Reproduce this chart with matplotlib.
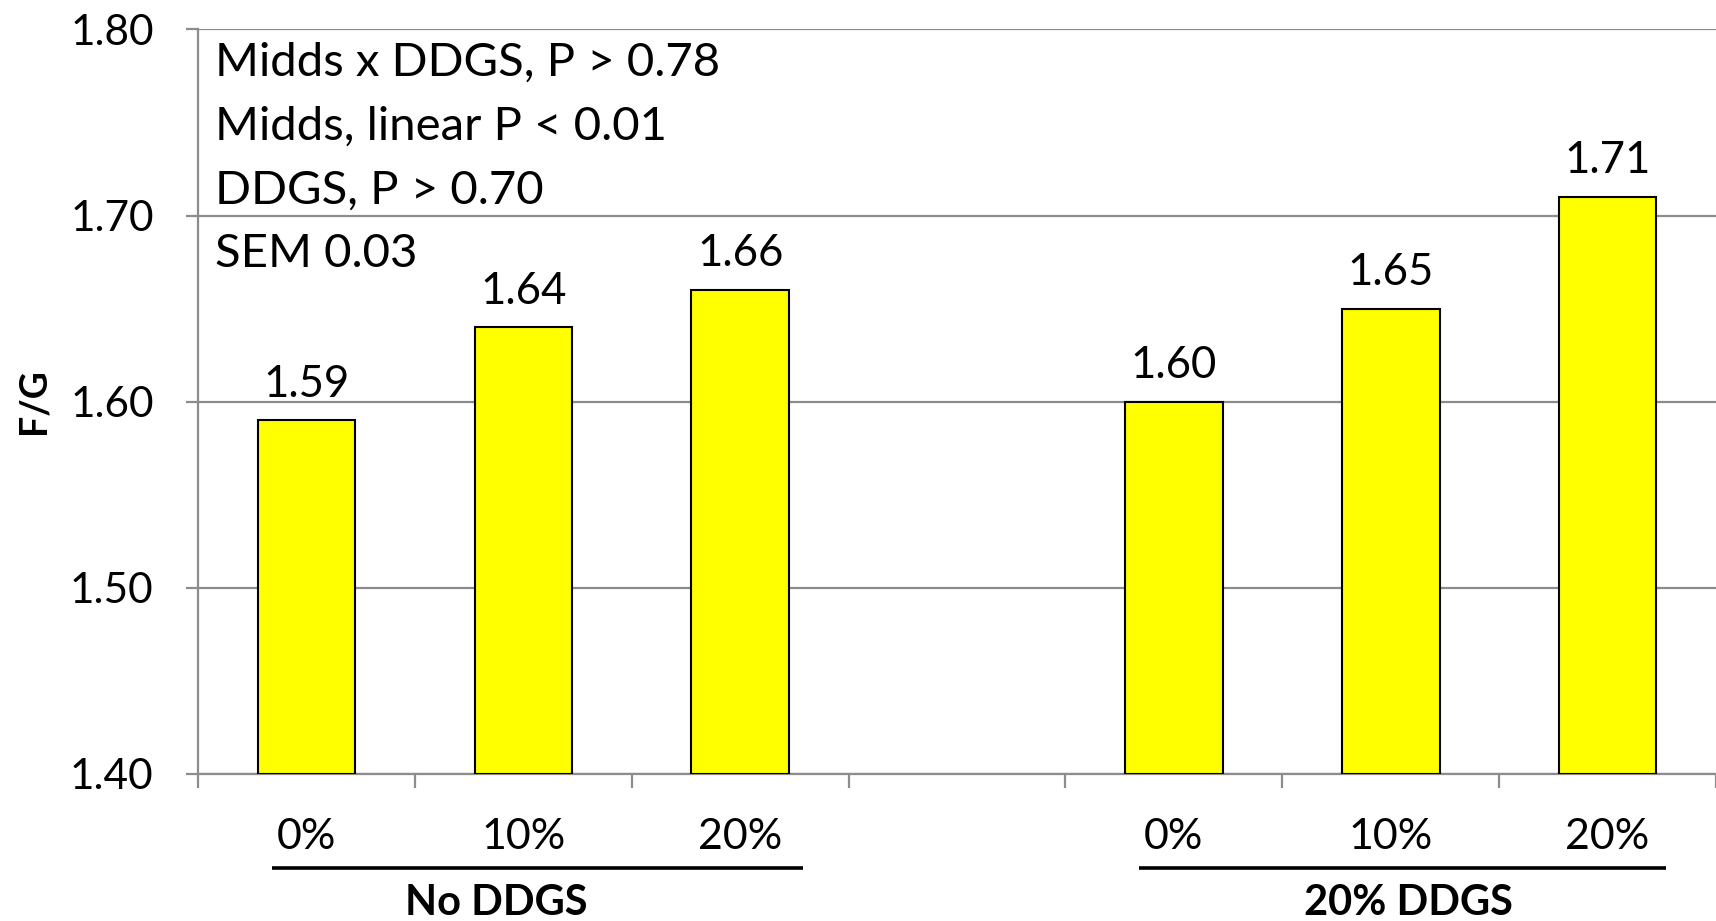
import matplotlib
matplotlib.use("Agg")
import matplotlib.pyplot as plt
from matplotlib.transforms import blended_transform_factory

plt.rcParams['font.family'] = ['Lato', 'DejaVu Sans']

# Feed efficiency (F/G) by midds level within each DDGS group
categories = ["0%", "10%", "20%", "", "0%", "10%", "20%"]
fg_values = [1.59, 1.64, 1.66, None, 1.60, 1.65, 1.71]
group_names = ["No DDGS", "20% DDGS"]
stats_lines = ["Midds x DDGS, P > 0.78", "Midds, linear P < 0.01",
               "DDGS, P > 0.70", "SEM 0.03"]
y_ticks = [1.40, 1.50, 1.60, 1.70, 1.80]

fig = plt.figure(figsize=(17.16, 9.21), dpi=100)
ax = fig.add_axes([0.1154, 0.160, 0.8846, 0.808])

x = list(range(len(categories)))
bar_x = [i for i, v in zip(x, fg_values) if v is not None]
bar_v = [v for v in fg_values if v is not None]

ax.set_ylim(1.40, 1.80)
ax.set_xlim(-0.5, len(categories) - 0.5)
ax.set_yticks(y_ticks)
ax.set_yticklabels([f"{t:.2f}" for t in y_ticks])
ax.yaxis.grid(True, color="#8c8c8c", linewidth=1.6)
ax.set_axisbelow(True)

bars = ax.bar(bar_x, [v - 1.40 for v in bar_v], bottom=1.40, width=0.45,
              color="#FFFF00", edgecolor="black", linewidth=1.5, zorder=3)
for bx, bv in zip(bar_x, bar_v):
    ax.annotate(f"{bv:.2f}", (bx, bv), xytext=(0, 17), textcoords="offset points",
                ha="center", va="baseline", fontsize=31.5)

for s in ["top", "right"]:
    ax.spines[s].set_visible(False)
for s in ["left", "bottom"]:
    ax.spines[s].set_color("#8c8c8c")
    ax.spines[s].set_linewidth(1.6)

ax.tick_params(axis="y", length=9, width=1.6, color="#8c8c8c", pad=23, labelsize=30.5)
ax.set_xticks(x)
ax.set_xticklabels(categories, fontsize=31)
ax.tick_params(axis="x", which="major", length=0, pad=32)
ax.set_xticks([i - 0.5 for i in range(len(categories) + 1)], minor=True)
ax.tick_params(axis="x", which="minor", length=10, width=1.6, color="#8c8c8c")

ax.set_ylabel("F/G", fontsize=27, fontweight="bold", labelpad=14)

for k, line in enumerate(stats_lines):
    ax.text(-0.42, 1.782 - k * 0.0343, line, fontsize=34, va="center", ha="left")

trans = blended_transform_factory(ax.transData, fig.transFigure)
group_spans = [(-0.16, 2.29), (3.84, 6.27)]
group_label_x = [0.873, 5.08]
for (x0, x1), lx, name in zip(group_spans, group_label_x, group_names):
    ax.plot([x0, x1], [0.0575, 0.0575], transform=trans, color="black",
            linewidth=2.6, clip_on=False, solid_capstyle="butt")
    ax.text(lx, 0.0195, name, transform=trans, ha="center", va="center",
            fontsize=30, fontweight="bold")

fig.savefig("out.png", dpi=100)
